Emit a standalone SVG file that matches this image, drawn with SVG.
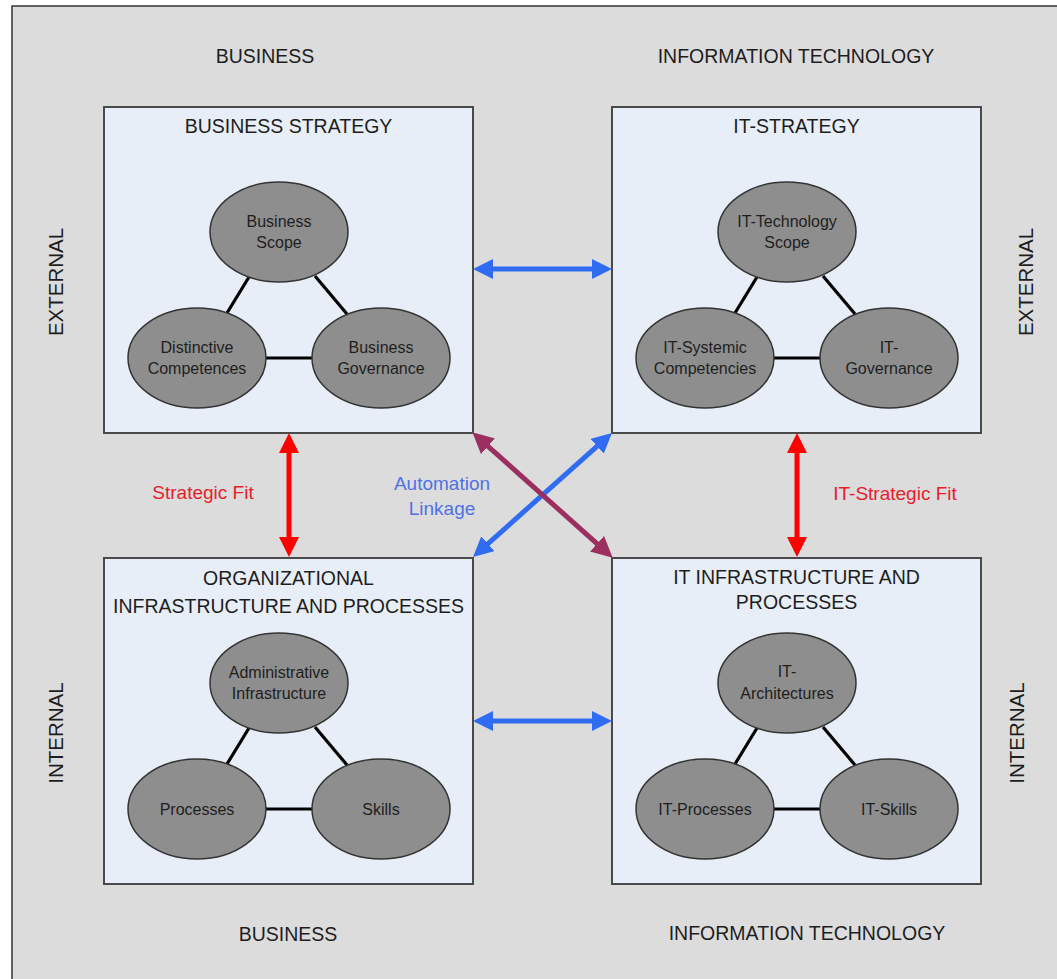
<svg xmlns="http://www.w3.org/2000/svg" width="1057" height="979" viewBox="0 0 1057 979">
<style>
text{font-family:"Liberation Sans",Arial,sans-serif;fill:#1e1e1e}
.h{font-size:19.5px;text-anchor:middle}
.s{font-size:20.5px;text-anchor:middle}
.e{font-size:16px;text-anchor:middle}
.box{fill:#e8eef7;stroke:#4a4a4a;stroke-width:2}
.el{fill:#8e8e8e;stroke:#333;stroke-width:1.5}
.tl{stroke:#000;stroke-width:3.2}
.lab{font-size:19px;text-anchor:middle}
</style>
<defs>
<marker id="hb" viewBox="0 0 20 20" refX="1" refY="10" markerWidth="20" markerHeight="20" markerUnits="userSpaceOnUse" orient="auto-start-reverse"><path d="M0,0 L20,10 L0,20 z" fill="#2f6cf2"/></marker>
<marker id="hr" viewBox="0 0 20 20" refX="1" refY="10" markerWidth="20" markerHeight="20" markerUnits="userSpaceOnUse" orient="auto-start-reverse"><path d="M0,0 L20,10 L0,20 z" fill="#ff0000"/></marker>
<marker id="hp" viewBox="0 0 20 20" refX="1" refY="10" markerWidth="21" markerHeight="21" markerUnits="userSpaceOnUse" orient="auto-start-reverse"><path d="M0,0 L20,10 L0,20 z" fill="#9a2f60"/></marker>
</defs>
<rect x="0" y="0" width="1057" height="979" fill="#ffffff"/>
<rect x="12" y="6" width="1100" height="1000" fill="#dcdcdc" stroke="#333" stroke-width="1.5"/>

<g id="labels">
<text class="h" x="265" y="63">BUSINESS</text>
<text class="h" x="796" y="63">INFORMATION TECHNOLOGY</text>
<text class="h" x="288" y="941">BUSINESS</text>
<text class="h" x="807" y="940">INFORMATION TECHNOLOGY</text>
<text class="s" transform="translate(63,282) rotate(-90)">EXTERNAL</text>
<text class="s" transform="translate(63,733) rotate(-90)">INTERNAL</text>
<text class="s" transform="translate(1033,282) rotate(-90)">EXTERNAL</text>
<text class="s" transform="translate(1024,733) rotate(-90)">INTERNAL</text>
<text class="lab" x="203" y="499" style="fill:#e8202a">Strategic Fit</text>
<text class="lab" x="895" y="500" style="fill:#e8202a">IT-Strategic Fit</text>
<text class="lab" x="442" y="490" style="fill:#4f72e6">Automation</text>
<text class="lab" x="442" y="515" style="fill:#4f72e6">Linkage</text>
</g>

<g id="business-strategy" transform="translate(104,107)">
<rect class="box" x="0" y="0" width="369" height="326"/>
<text class="h" x="184.5" y="26">BUSINESS STRATEGY</text>
<line class="tl" x1="145" y1="170" x2="123" y2="206"/>
<line class="tl" x1="211" y1="169" x2="243" y2="207"/>
<line class="tl" x1="162" y1="251" x2="208" y2="251"/>
<ellipse class="el" cx="175" cy="125" rx="69" ry="50"/>
<ellipse class="el" cx="93" cy="251" rx="69" ry="50"/>
<ellipse class="el" cx="277" cy="251" rx="69" ry="50"/>
<text class="e" x="175" y="120">Business</text>
<text class="e" x="175" y="141">Scope</text>
<text class="e" x="93" y="246">Distinctive</text>
<text class="e" x="93" y="267">Competences</text>
<text class="e" x="277" y="246">Business</text>
<text class="e" x="277" y="267">Governance</text>
</g>

<g id="it-strategy" transform="translate(612,107)">
<rect class="box" x="0" y="0" width="369" height="326"/>
<text class="h" x="184.5" y="26">IT-STRATEGY</text>
<line class="tl" x1="145" y1="170" x2="123" y2="206"/>
<line class="tl" x1="211" y1="169" x2="243" y2="207"/>
<line class="tl" x1="162" y1="251" x2="208" y2="251"/>
<ellipse class="el" cx="175" cy="125" rx="69" ry="50"/>
<ellipse class="el" cx="93" cy="251" rx="69" ry="50"/>
<ellipse class="el" cx="277" cy="251" rx="69" ry="50"/>
<text class="e" x="175" y="120">IT-Technology</text>
<text class="e" x="175" y="141">Scope</text>
<text class="e" x="93" y="246">IT-Systemic</text>
<text class="e" x="93" y="267">Competencies</text>
<text class="e" x="277" y="246">IT-</text>
<text class="e" x="277" y="267">Governance</text>
</g>

<g id="org-infrastructure" transform="translate(104,558)">
<rect class="box" x="0" y="0" width="369" height="326"/>
<text class="h" x="184.5" y="27">ORGANIZATIONAL</text>
<text class="h" x="184.5" y="55">INFRASTRUCTURE AND PROCESSES</text>
<line class="tl" x1="145" y1="170" x2="123" y2="206"/>
<line class="tl" x1="211" y1="169" x2="243" y2="207"/>
<line class="tl" x1="162" y1="251" x2="208" y2="251"/>
<ellipse class="el" cx="175" cy="125" rx="69" ry="50"/>
<ellipse class="el" cx="93" cy="251" rx="69" ry="50"/>
<ellipse class="el" cx="277" cy="251" rx="69" ry="50"/>
<text class="e" x="175" y="120">Administrative</text>
<text class="e" x="175" y="141">Infrastructure</text>
<text class="e" x="93" y="256.5">Processes</text>
<text class="e" x="277" y="256.5">Skills</text>
</g>

<g id="it-infrastructure" transform="translate(612,558)">
<rect class="box" x="0" y="0" width="369" height="326"/>
<text class="h" x="184.5" y="26">IT INFRASTRUCTURE AND</text>
<text class="h" x="184.5" y="51">PROCESSES</text>
<line class="tl" x1="145" y1="170" x2="123" y2="206"/>
<line class="tl" x1="211" y1="169" x2="243" y2="207"/>
<line class="tl" x1="162" y1="251" x2="208" y2="251"/>
<ellipse class="el" cx="175" cy="125" rx="69" ry="50"/>
<ellipse class="el" cx="93" cy="251" rx="69" ry="50"/>
<ellipse class="el" cx="277" cy="251" rx="69" ry="50"/>
<text class="e" x="175" y="119">IT-</text>
<text class="e" x="175" y="141">Architectures</text>
<text class="e" x="93" y="256.5">IT-Processes</text>
<text class="e" x="277" y="256.5">IT-Skills</text>
</g>

<g id="connectors" fill="none" stroke-width="5">
<path d="M492,269 L593,269" stroke="#2f6cf2" marker-start="url(#hb)" marker-end="url(#hb)"/>
<path d="M492,721 L593,721" stroke="#2f6cf2" marker-start="url(#hb)" marker-end="url(#hb)"/>
<path d="M289,452 L289,538" stroke="#ff0000" marker-start="url(#hr)" marker-end="url(#hr)"/>
<path d="M797,452 L797,538" stroke="#ff0000" marker-start="url(#hr)" marker-end="url(#hr)"/>
<path d="M597.8,445.6 L487.2,544.4" stroke="#2f6cf2" marker-start="url(#hb)" marker-end="url(#hb)"/>
<path d="M487.2,445.6 L597.8,544.4" stroke="#9a2f60" marker-start="url(#hp)" marker-end="url(#hp)"/>
</g>
</svg>
